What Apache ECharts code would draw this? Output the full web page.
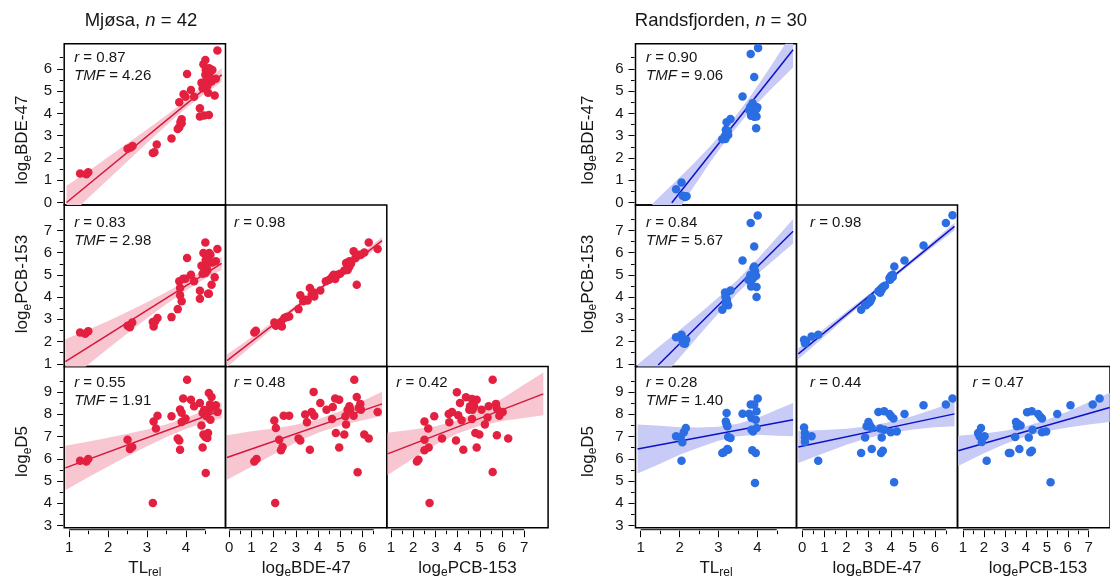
<!DOCTYPE html>
<html><head><meta charset="utf-8">
<script src="https://cdn.jsdelivr.net/npm/echarts@6/dist/echarts.min.js"></script>
<style>html,body{margin:0;padding:0;background:#fff}#c{width:1110px;height:583px}</style>
</head><body><div id="c"></div>
<script>
// ---------------- DATA ----------------
// tick labels
const tl_major = [1, 2, 3, 4];
const tl_minor = [1.5, 2.5, 3.5, 4.5];
const bde_major = [0, 1, 2, 3, 4, 5, 6];
const bde_minor = [0.5, 1.5, 2.5, 3.5, 4.5, 5.5, 6.5];
const pcb_major = [1, 2, 3, 4, 5, 6, 7];
const pcb_minor_x = [1.5, 2.5, 3.5, 4.5, 5.5, 6.5];
const pcb_minor_y = [1.5, 2.5, 3.5, 4.5, 5.5, 6.5, 7.5];
const d5_major = [3, 4, 5, 6, 7, 8, 9];
const d5_minor = [3.5, 4.5, 5.5, 6.5, 7.5, 8.5, 9.5];

const titles = ['Mjøsa', 'Randsfjorden'];
const sampleN = [42, 30];
const mjosa_r = ['0.87', '0.83', '0.98', '0.55', '0.48', '0.42'];
const mjosa_tmf = ['4.26', '2.98', '1.91'];
const rands_r = ['0.90', '0.84', '0.98', '0.28', '0.44', '0.47'];
const rands_tmf = ['9.06', '5.67', '1.40'];

// Mjøsa points [x, y]
const mjosa_bde_vs_tl = [[1.28,1.30],[1.44,1.27],[1.49,1.36],[2.50,2.41],[2.58,2.47],[2.63,2.54],[3.15,2.22],[3.19,2.26],[3.25,2.60],[3.63,2.87],[3.79,3.30],[3.83,3.38],[3.86,3.60],[3.89,3.74],[3.89,3.56],[3.83,4.50],[3.94,4.86],[3.99,4.75],[4.03,5.77],[4.13,5.05],[4.21,4.75],[4.36,4.23],[4.36,3.86],[4.40,5.38],[4.43,5.13],[4.45,6.21],[4.50,6.40],[4.50,5.73],[4.51,5.95],[4.53,5.50],[4.55,5.23],[4.57,4.93],[4.59,3.93],[4.60,6.03],[4.63,5.87],[4.66,5.43],[4.68,5.95],[4.74,4.80],[4.77,5.55],[4.81,6.82],[4.47,3.90],[4.62,5.60]];
const mjosa_pcb_vs_tl = [[1.28,2.41],[1.41,2.35],[1.49,2.47],[2.50,2.71],[2.56,2.65],[2.62,2.86],[3.15,2.88],[3.17,2.68],[3.21,2.91],[3.27,3.06],[3.63,3.10],[3.79,3.46],[3.83,4.71],[3.85,4.41],[3.85,4.08],[3.89,3.81],[3.93,4.83],[3.99,4.83],[4.03,5.76],[4.13,5.01],[4.21,4.71],[4.36,3.93],[4.36,4.29],[4.40,5.41],[4.43,5.05],[4.45,5.99],[4.50,6.46],[4.50,5.09],[4.51,5.68],[4.53,5.38],[4.55,5.20],[4.57,4.15],[4.59,4.15],[4.60,5.99],[4.63,5.91],[4.66,4.56],[4.68,5.56],[4.74,4.89],[4.77,5.61],[4.81,6.17],[4.47,5.12],[4.55,5.78]];
const mjosa_d5_vs_tl = [[1.28,5.91],[1.44,5.88],[1.49,5.99],[2.50,6.86],[2.56,6.44],[2.62,6.53],[3.15,4.01],[3.17,7.68],[3.23,7.36],[3.27,7.94],[3.63,7.91],[3.79,6.91],[3.83,6.82],[3.85,6.41],[3.85,8.22],[3.89,8.07],[3.89,7.66],[3.93,8.71],[3.99,7.81],[4.03,9.56],[4.13,8.66],[4.21,8.36],[4.36,8.51],[4.40,7.50],[4.43,8.06],[4.43,6.51],[4.45,7.09],[4.50,6.98],[4.51,5.36],[4.53,7.91],[4.55,6.94],[4.57,7.16],[4.59,8.96],[4.60,8.21],[4.62,8.44],[4.63,7.76],[4.66,8.78],[4.68,8.36],[4.74,8.36],[4.77,8.41],[4.81,8.11],[4.47,8.20]];
const mjosa_pcb_vs_bde = [[1.13,2.41],[1.20,2.49],[2.03,2.86],[2.10,2.71],[2.22,2.76],[2.33,2.88],[2.37,2.68],[2.48,3.06],[2.58,3.10],[2.70,3.13],[3.12,3.46],[3.20,4.08],[3.33,3.81],[3.45,3.88],[3.63,4.41],[3.71,4.11],[3.80,4.21],[3.83,4.03],[4.10,4.30],[4.35,4.71],[4.50,4.78],[4.63,4.90],[4.70,5.01],[4.77,4.81],[4.88,5.01],[4.99,5.05],[5.18,5.20],[5.26,5.54],[5.33,5.41],[5.41,5.61],[5.48,5.50],[5.60,6.06],[5.68,5.76],[5.74,4.56],[5.81,5.91],[5.93,5.91],[6.08,6.01],[6.28,6.46],[6.68,6.17],[5.33,5.22],[3.53,3.85],[5.41,5.38]];
const mjosa_d5_vs_bde = [[1.13,5.88],[1.23,5.99],[2.03,7.72],[2.10,7.39],[2.07,4.01],[2.25,6.86],[2.33,6.38],[2.40,6.53],[2.45,7.94],[2.70,7.94],[3.12,6.91],[3.20,6.82],[3.42,7.99],[3.50,7.64],[3.63,6.41],[3.71,8.11],[3.83,7.94],[3.80,9.01],[4.10,8.51],[4.38,8.21],[4.63,7.79],[4.66,8.33],[4.77,8.71],[4.95,8.66],[4.80,7.16],[4.95,6.51],[5.18,7.09],[5.23,7.91],[5.26,7.54],[5.33,8.21],[5.41,8.36],[5.45,8.21],[5.60,7.94],[5.63,9.56],[5.74,8.78],[5.78,5.39],[5.83,8.29],[5.90,8.47],[5.93,8.21],[6.08,7.09],[6.28,6.91],[6.68,8.11]];
const mjosa_d5_vs_pcb = [[2.17,5.88],[2.24,5.96],[2.51,7.68],[2.68,7.36],[2.51,6.86],[2.51,6.38],[2.70,6.51],[2.74,4.01],[2.95,7.91],[3.30,6.91],[3.60,8.02],[3.63,7.64],[3.75,8.11],[3.93,6.82],[3.97,8.99],[4.03,7.96],[4.11,8.51],[4.26,6.41],[4.38,8.77],[4.53,8.21],[4.56,8.36],[4.65,8.69],[4.68,8.21],[4.75,8.36],[4.86,8.66],[4.65,7.79],[4.80,7.16],[4.98,7.09],[4.86,6.51],[5.08,8.21],[5.23,7.54],[5.35,7.86],[5.40,8.36],[5.58,9.56],[5.58,5.41],[5.73,8.47],[5.77,8.26],[5.77,7.06],[5.88,7.94],[6.03,8.11],[6.28,6.91],[4.18,7.73]];

// Randsfjorden points [x, y]
const rands_bde_vs_tl = [[1.91,0.59],[2.05,0.90],[2.08,0.30],[2.14,0.25],[2.18,0.28],[3.10,2.84],[3.17,2.99],[3.21,3.11],[3.25,3.03],[3.19,3.26],[3.21,3.60],[3.31,3.75],[3.62,4.76],[3.83,6.67],[3.92,5.63],[3.84,3.89],[3.90,4.23],[3.94,4.28],[3.98,3.86],[4.00,4.28],[3.97,3.33],[3.88,4.46],[4.02,6.94],[3.85,3.95],[3.79,4.15],[3.92,3.85],[3.18,2.85],[3.24,3.20],[3.82,4.30],[3.98,4.20]];
const rands_pcb_vs_tl = [[1.91,2.20],[2.05,2.31],[2.08,2.00],[2.14,1.90],[2.17,2.08],[2.10,1.93],[3.10,3.43],[3.17,4.21],[3.21,3.91],[3.25,3.63],[3.19,3.70],[3.22,3.81],[3.31,4.30],[3.62,5.65],[3.83,7.34],[4.01,7.67],[3.92,6.28],[3.77,4.78],[3.84,4.48],[3.90,5.31],[3.94,5.16],[3.97,4.96],[3.98,4.45],[3.88,4.82],[3.92,5.38],[3.98,4.00],[3.85,4.51],[3.18,4.00],[3.90,4.95],[3.82,5.00]];
const rands_d5_vs_tl = [[1.91,7.01],[2.03,6.98],[2.07,6.74],[2.05,5.91],[2.11,7.19],[2.16,7.39],[3.10,6.26],[3.14,6.29],[3.23,6.44],[3.25,6.41],[3.19,7.68],[3.21,7.54],[3.21,8.06],[3.23,7.46],[3.25,6.98],[3.31,6.94],[3.62,8.03],[3.79,8.03],[3.83,8.44],[3.92,8.44],[3.85,7.84],[3.89,7.23],[3.85,7.31],[3.96,7.76],[3.98,8.14],[4.01,8.71],[3.98,7.39],[3.87,6.38],[3.96,6.26],[3.94,4.91]];
const rands_pcb_vs_bde = [[0.08,2.08],[0.12,1.93],[0.17,2.00],[0.42,2.23],[0.72,2.31],[2.66,3.43],[2.84,3.66],[2.94,3.70],[3.03,3.76],[3.10,3.88],[3.14,3.96],[3.06,3.81],[3.44,4.26],[3.52,4.33],[3.59,4.41],[3.67,4.48],[3.74,4.51],[3.94,4.86],[4.01,4.96],[4.09,5.01],[4.16,5.38],[4.62,5.65],[5.48,6.32],[6.49,7.34],[6.79,7.68],[3.59,4.33],[3.97,4.78],[4.09,4.90],[2.88,3.63],[3.52,4.20]];
const rands_d5_vs_bde = [[0.08,7.41],[0.12,7.16],[0.12,6.96],[0.12,6.76],[0.42,7.01],[0.72,5.91],[2.66,6.26],[2.84,6.96],[2.91,7.46],[2.99,7.66],[3.06,7.50],[3.14,7.39],[3.14,6.44],[3.44,8.11],[3.70,8.14],[3.94,8.02],[4.01,7.91],[4.12,7.81],[3.52,7.36],[3.59,6.96],[3.71,7.31],[3.56,6.26],[3.64,6.36],[4.00,7.19],[4.27,7.23],[4.15,4.94],[4.62,8.02],[5.48,8.41],[6.49,8.44],[6.79,8.71]];
const rands_d5_vs_pcb = [[1.72,7.16],[1.79,7.01],[1.86,7.39],[1.90,6.76],[2.03,7.01],[2.13,5.91],[3.19,6.26],[3.26,6.26],[3.49,6.98],[3.53,7.66],[3.57,7.46],[3.64,7.57],[3.75,7.50],[3.69,6.44],[4.06,8.09],[4.28,8.14],[4.14,6.96],[4.21,6.29],[4.29,6.36],[4.32,7.31],[4.59,8.02],[4.70,7.88],[4.77,7.81],[4.77,7.19],[4.97,7.23],[5.18,4.94],[5.50,8.02],[6.13,8.41],[7.19,8.44],[7.52,8.71]];

// fitted lines (two end points)
const mjosa_fit_bde_tl = [[0.93,0.0],[4.92,5.73]];
const mjosa_fit_pcb_tl = [[0.9,1.10],[4.92,5.52]];
const mjosa_fit_d5_tl = [[0.9,5.59],[4.92,8.18]];
const mjosa_fit_pcb_bde = [[-0.1,1.14],[6.88,6.54]];
const mjosa_fit_d5_bde = [[-0.1,6.06],[6.88,8.47]];
const mjosa_fit_d5_pcb = [[0.85,6.22],[7.86,8.92]];
const rands_fit_bde_tl = [[1.8,-0.01],[4.92,6.86]];
const rands_fit_pcb_tl = [[1.45,0.943],[4.92,6.96]];
const rands_fit_d5_tl = [[0.92,6.44],[4.92,7.76]];
const rands_fit_pcb_bde = [[-0.18,1.45],[6.88,7.18]];
const rands_fit_d5_bde = [[-0.18,6.53],[6.88,8.02]];
const rands_fit_d5_pcb = [[0.77,6.36],[8.0,8.31]];

// confidence bands [x, lower, upper]
const mjosa_band_bde_tl = [[0.93,-0.75,0.75],[1.5,0.219,1.419],[2,1.037,2.037],[2.5,1.855,2.655],[3,2.673,3.273],[3.5,3.471,3.911],[4,4.229,4.589],[4.5,4.907,5.347],[4.92,5.41,6.05]];
const mjosa_band_pcb_tl = [[0.9,0.10,2.10],[1.5,0.98,2.54],[2,1.689,2.929],[2.5,2.379,3.339],[3,3.049,3.769],[3.5,3.689,4.229],[4,4.298,4.718],[4.5,4.838,5.278],[4.92,5.22,5.82]];
const mjosa_band_d5_tl = [[0.9,4.59,6.59],[1.5,5.177,6.777],[2,5.649,6.949],[2.5,6.121,7.121],[3,6.563,7.323],[3.5,6.975,7.555],[4,7.337,7.837],[4.5,7.639,8.179],[4.92,7.82,8.54]];
const mjosa_band_pcb_bde = [[-0.1,0.86,1.42],[1,1.791,2.191],[2,2.624,2.904],[3,3.438,3.638],[4,4.232,4.392],[5,4.995,5.175],[6,5.739,5.979],[6.88,6.38,6.70]];
const mjosa_band_d5_bde = [[-0.1,5.06,7.06],[1,5.64,7.24],[2,6.205,7.365],[3,6.73,7.53],[4,7.176,7.776],[5,7.501,8.141],[6,7.736,8.596],[6.88,7.92,9.02]];
const mjosa_band_d5_pcb = [[0.85,5.27,7.17],[2,6.013,7.313],[3,6.628,7.468],[4,7.133,7.733],[5,7.489,8.149],[6,7.704,8.704],[7,7.839,9.339],[7.86,7.96,9.88]];
const rands_band_bde_tl = [[1.3,-2.161,-0.061],[1.8,-0.81,0.79],[2.3,0.541,1.641],[2.8,1.842,2.542],[3.3,3.033,3.553],[3.8,4.074,4.714],[4.3,4.995,5.995],[4.92,6.06,7.66]];
const rands_band_pcb_tl = [[0.92,-0.926,0.974],[1.5,0.25,1.81],[2,1.277,2.517],[2.5,2.284,3.244],[3,3.271,3.991],[3.5,4.198,4.798],[4,5.025,5.705],[4.5,5.782,6.682],[4.92,6.41,7.51]];
const rands_band_d5_tl = [[0.92,5.34,7.54],[1.5,5.781,7.481],[2,6.176,7.416],[2.5,6.511,7.411],[3,6.806,7.446],[3.5,7.011,7.571],[4,7.076,7.836],[4.5,7.041,8.201],[4.92,7.01,8.51]];
const rands_band_pcb_bde = [[-0.18,1.2,1.7],[1,2.228,2.588],[2,3.089,3.349],[3,3.931,4.131],[4,4.752,4.932],[5,5.554,5.754],[6,6.336,6.596],[6.88,7.01,7.35]];
const rands_band_d5_bde = [[-0.18,5.81,7.25],[1,6.259,7.299],[2,6.63,7.35],[3,6.941,7.461],[4,7.162,7.662],[5,7.323,7.923],[6,7.414,8.254],[6.88,7.46,8.58]];
const rands_band_d5_pcb = [[0.77,5.68,7.04],[2,6.252,7.132],[3,6.661,7.261],[4,7.001,7.461],[5,7.241,7.761],[6,7.411,8.131],[7,7.54,8.54],[8,7.65,8.97]];

// ---------------- LAYOUT / STYLE ----------------
const FONT = '"Liberation Sans", Arial, Helvetica, sans-serif';
const INK = '#161616';
const ROW_TOP = [43.8, 205.1, 366.4];
const CELL_H = 161.3;
const Y_RANGE = [[-0.117, 7.123], [0.883, 8.14], [2.90, 10.156]];
const Y_MAJOR = [bde_major, pcb_major, d5_major];
const Y_MINOR = [bde_minor, pcb_minor_y, d5_minor];
const X_MAJOR = [tl_major, bde_major, pcb_major];
const X_MINOR = [tl_minor, bde_minor, pcb_minor_x];
const RT_DY = [[14.2, 32.2], [17.8, 36], [16, 34.3]];

const PANELS = [
  { left: 64.2, w: 161.3, xr: [[0.871, 5.018], [-0.167, 7.093], [0.815, 8.075]],
    pt: '#e3203f', ln: '#d3173a', bd: '#f8c6d0', dx: [10, 8.5, 9.5], ytx: 22.5, tx: 141,
    r: mjosa_r, tmf: mjosa_tmf,
    cells: [
      [0, 0, mjosa_bde_vs_tl, mjosa_fit_bde_tl, mjosa_band_bde_tl],
      [1, 0, mjosa_pcb_vs_tl, mjosa_fit_pcb_tl, mjosa_band_pcb_tl],
      [1, 1, mjosa_pcb_vs_bde, mjosa_fit_pcb_bde, mjosa_band_pcb_bde],
      [2, 0, mjosa_d5_vs_tl, mjosa_fit_d5_tl, mjosa_band_d5_tl],
      [2, 1, mjosa_d5_vs_bde, mjosa_fit_d5_bde, mjosa_band_d5_bde],
      [2, 2, mjosa_d5_vs_pcb, mjosa_fit_d5_pcb, mjosa_band_d5_pcb]
    ]},
  { left: 635.5, w: 161, xr: [[0.866, 5.008], [-0.262, 7.016], [0.738, 8.016]],
    pt: '#2b6de3', ln: '#0c12c6', bd: '#c8cbf6', dx: [10.5, 13.5, 15], ytx: 588, tx: 721,
    r: rands_r, tmf: rands_tmf,
    cells: [
      [0, 0, rands_bde_vs_tl, rands_fit_bde_tl, rands_band_bde_tl],
      [1, 0, rands_pcb_vs_tl, rands_fit_pcb_tl, rands_band_pcb_tl],
      [1, 1, rands_pcb_vs_bde, rands_fit_pcb_bde, rands_band_pcb_bde],
      [2, 0, rands_d5_vs_tl, rands_fit_d5_tl, rands_band_d5_tl],
      [2, 1, rands_d5_vs_bde, rands_fit_d5_bde, rands_band_d5_bde],
      [2, 2, rands_d5_vs_pcb, rands_fit_d5_pcb, rands_band_d5_pcb]
    ]}
];

const grids = [], xAxes = [], yAxes = [], series = [], graphics = [];

function tok(size, extra) { return Object.assign({ fontSize: size, fontFamily: FONT, color: INK }, extra || {}); }
const RICH = {
  b: tok(17), s: tok(12, { padding: [10, 0, 0, 0] }),
  n: tok(15), i: tok(15, { fontStyle: 'italic' }),
  tb: tok(18.5), ti: tok(18.5, { fontStyle: 'italic' })
};
function addText(x, y, text, opts) {
  graphics.push(Object.assign({
    type: 'text', x: x, y: y, silent: true, z: 50,
    style: Object.assign({ text: text, fill: INK, fontSize: 15, fontFamily: FONT,
      align: 'left', verticalAlign: 'middle', rich: RICH }, (opts && opts.style) || {})
  }, (opts && opts.el) || {}));
}

const Y_TITLES = ['{b|log}{s|e}{b|BDE-47}', '{b|log}{s|e}{b|PCB-153}', '{b|log}{s|e}{b|D5}'];
const Y_TITLE_CY = [140, 284, 451.5];
const X_TITLES = ['{b|TL}{s|rel}', '{b|log}{s|e}{b|BDE-47}', '{b|log}{s|e}{b|PCB-153}'];

function bandRenderer(band, color) {
  return function (params, api) {
    if (params.dataIndex !== 0) return null;
    const up = [], lo = [];
    band.forEach(function (b) {
      up.push(api.coord([b[0], b[2]]));
      lo.push(api.coord([b[0], b[1]]));
    });
    return { type: 'polygon', shape: { points: up.concat(lo.reverse()) },
      style: { fill: color, stroke: null } };
  };
}

PANELS.forEach(function (P, pi) {
  addText(P.tx, 20.5, '{tb|' + titles[pi] + ', }{ti|n}{tb| = ' + sampleN[pi] + '}', { style: { align: 'center' } });

  P.cells.forEach(function (c) {
    const row = c[0], col = c[1], pts = c[2], fit = c[3], band = c[4];
    const left = P.left + col * P.w, top = ROW_TOP[row];
    const gi = grids.length;
    grids.push({ left: left, top: top, width: P.w, height: CELL_H, show: true,
      borderColor: '#000', borderWidth: 1.5, backgroundColor: 'transparent' });
    const xi = xAxes.length;
    xAxes.push({ type: 'value', gridIndex: gi, min: P.xr[col][0], max: P.xr[col][1], show: false });
    const yi = yAxes.length;
    if (col === 0) {
      yAxes.push({ type: 'value', gridIndex: gi, min: Y_RANGE[row][0], max: Y_RANGE[row][1],
        position: 'left', offset: 1, axisLine: { show: false }, splitLine: { show: false },
        axisTick: { show: true, customValues: Y_MAJOR[row], length: 6, lineStyle: { color: '#000', width: 1 } },
        axisLabel: { show: true, customValues: Y_MAJOR[row], margin: 11, fontSize: 15, fontFamily: FONT, color: INK } });
      yAxes.push({ type: 'value', gridIndex: gi, min: Y_RANGE[row][0], max: Y_RANGE[row][1],
        position: 'left', offset: 1, axisLine: { show: false }, splitLine: { show: false },
        axisTick: { show: true, customValues: Y_MINOR[row], length: 3.5, lineStyle: { color: '#000', width: 1 } },
        axisLabel: { show: false } });
      addText(P.ytx, Y_TITLE_CY[row], Y_TITLES[row], { style: { align: 'center' }, el: { rotation: Math.PI / 2 } });
    } else {
      yAxes.push({ type: 'value', gridIndex: gi, min: Y_RANGE[row][0], max: Y_RANGE[row][1], show: false });
    }
    // confidence band
    series.push({ type: 'custom', xAxisIndex: xi, yAxisIndex: yi, z: 1, silent: true, clip: true,
      data: band, encode: { x: 0, y: [1, 2] }, renderItem: bandRenderer(band, P.bd) });
    // fit line
    series.push({ type: 'line', xAxisIndex: xi, yAxisIndex: yi, symbol: 'none', silent: true, z: 2,
      lineStyle: { color: P.ln, width: 1.5 }, data: fit });
    // points
    series.push({ type: 'scatter', xAxisIndex: xi, yAxisIndex: yi, symbol: 'circle', symbolSize: 8.5,
      z: 3, silent: true, itemStyle: { color: P.pt, opacity: 1 }, data: pts });

    const k = row === 0 ? 0 : row === 1 ? (col === 0 ? 1 : 2) : 3 + col;
    addText(left + P.dx[col], top + RT_DY[row][0], '{i|r}{n| = ' + P.r[k] + '}');
    if (col === 0) addText(left + P.dx[col], top + RT_DY[row][1], '{i|TMF}{n| = ' + P.tmf[row] + '}');

    if (row === 2) {
      const sg = grids.length;
      grids.push({ left: left, top: top + CELL_H + 2, width: P.w, height: 1, show: false });
      const sx = xAxes.length;
      xAxes.push({ type: 'value', gridIndex: sg, min: P.xr[col][0], max: P.xr[col][1], position: 'bottom',
        axisLine: { show: false }, splitLine: { show: false },
        axisTick: { show: true, customValues: X_MAJOR[col], length: 6.5, lineStyle: { color: '#000', width: 1 } },
        axisLabel: { show: true, customValues: X_MAJOR[col], margin: 10, fontSize: 15, fontFamily: FONT, color: INK } });
      xAxes.push({ type: 'value', gridIndex: sg, min: P.xr[col][0], max: P.xr[col][1], position: 'bottom',
        axisLine: { show: false }, splitLine: { show: false },
        axisTick: { show: true, customValues: X_MINOR[col], length: 3.5, lineStyle: { color: '#000', width: 1 } },
        axisLabel: { show: false } });
      const sy = yAxes.length;
      yAxes.push({ type: 'value', gridIndex: sg, min: 0, max: 1, show: false });
      const allT = X_MAJOR[col].concat(X_MINOR[col]);
      series.push({ type: 'line', xAxisIndex: sx, yAxisIndex: sy, symbol: 'none', silent: true, clip: false,
        lineStyle: { color: '#000', width: 1 },
        data: [[Math.min.apply(null, allT), 1], [Math.max.apply(null, allT), 1]] });
      addText(left + P.w / 2, 568, X_TITLES[col], { style: { align: 'center' } });
    }
  });
});

const chart = echarts.init(document.getElementById('c'), null, { renderer: 'canvas' });
chart.setOption({
  animation: false,
  backgroundColor: '#ffffff',
  grid: grids, xAxis: xAxes, yAxis: yAxes, series: series,
  graphic: { elements: graphics }
});
</script>
</body></html>
